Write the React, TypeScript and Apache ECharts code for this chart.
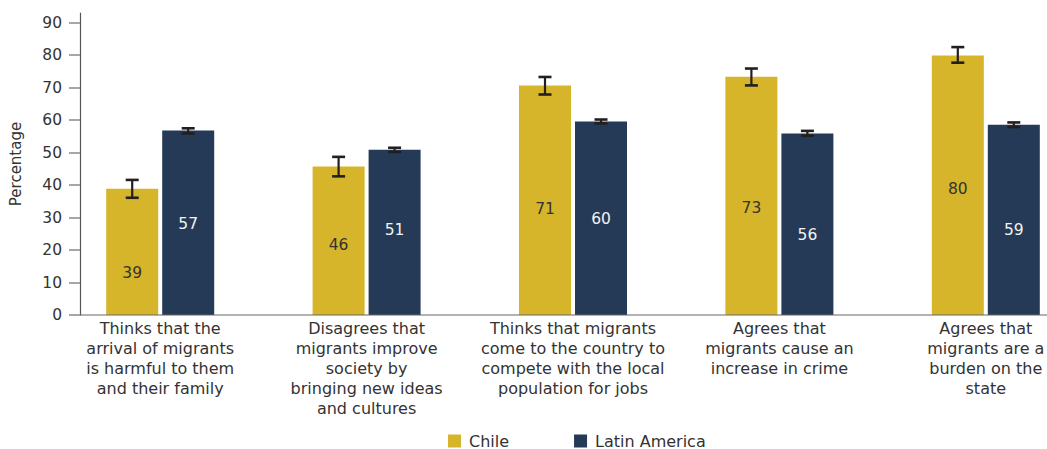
import React, { useEffect, useRef } from "react";
import * as echarts from "echarts";

const categories = [
  "Thinks that the\narrival of migrants\nis harmful to them\nand their family",
  "Disagrees that\nmigrants improve\nsociety by\nbringing new ideas\nand cultures",
  "Thinks that migrants\ncome to the country to\ncompete with the local\npopulation for jobs",
  "Agrees that\nmigrants cause an\nincrease in crime",
  "Agrees that\nmigrants are a\nburden on the\nstate",
];
const seriesNames = ["Chile", "Latin America"];
const chileValues = [38.9, 45.7, 70.7, 73.4, 79.9];
const latamValues = [56.8, 50.9, 59.6, 55.9, 58.6];
const chileLow = [36.1, 42.7, 67.9, 70.7, 77.7];
const chileHigh = [41.6, 48.7, 73.3, 75.9, 82.5];
const latamLow = [55.9, 50.2, 59.0, 55.2, 57.9];
const latamHigh = [57.5, 51.5, 60.2, 56.7, 59.3];
const yTicks = [0, 10, 20, 30, 40, 50, 60, 70, 80, 90];

// style: vertical label shifts (px) inside bars
const chileLabelShift = [21, 4, 9, 12, 4];
const latamLabelShift = [1, -2, 1, 11, 10];

const CHILE = "#D6B52A";
const LATAM = "#253A56";
const ERR = "#231F20";
const FONT = "DejaVu Sans";
const BAR_W = 52;
const BAR_GAP_PX = 4;

function errSeries(name: string, low: number[], high: number[], shift: number) {
  return {
    type: "custom",
    name: name + " CI",
    z: 10,
    encode: { x: 0, y: [1, 2] },
    data: low.map((l, i) => [i, l, high[i]]),
    renderItem: (params: any, api: any) => {
      const i = api.value(0);
      const lo = api.coord([i, api.value(1)]);
      const hi = api.coord([i, api.value(2)]);
      const cx = lo[0] + shift;
      const half = 6.5;
      const style = { stroke: ERR, lineWidth: 2.2 };
      return {
        type: "group",
        children: [
          { type: "line", shape: { x1: cx, y1: hi[1], x2: cx, y2: lo[1] }, style },
          { type: "line", shape: { x1: cx - half, y1: hi[1], x2: cx + half, y2: hi[1] }, style: { stroke: ERR, lineWidth: 2.6 } },
          { type: "line", shape: { x1: cx - half, y1: lo[1], x2: cx + half, y2: lo[1] }, style: { stroke: ERR, lineWidth: 2.6 } },
        ],
      };
    },
  };
}

export default function App() {
  const ref = useRef<HTMLDivElement>(null);
  useEffect(() => {
    if (!ref.current) return;
    const chart = echarts.init(ref.current, null, { renderer: "svg" });
    const off = (BAR_W + BAR_GAP_PX) / 2;
    chart.setOption({
      animation: false,
      textStyle: { fontFamily: FONT },
      grid: { left: 57, width: 1032, top: 13, height: 302, outerBoundsMode: "none", containLabel: false },
      legend: {
        data: seriesNames,
        left: 443,
        top: 428,
        itemWidth: 13,
        itemHeight: 13,
        itemGap: 65,
        icon: "rect",
        textStyle: { fontFamily: FONT, fontSize: 16, color: "#333", padding: [0, 0, 0, 3] },
      },
      xAxis: {
        type: "category",
        data: categories,
        axisLine: { show: false },
        axisTick: { show: false },
        axisLabel: {
          interval: 0,
          margin: 3,
          fontFamily: FONT,
          fontSize: 16,
          lineHeight: 20,
          color: "#333",
          align: "center",
        },
      },
      yAxis: {
        type: "value",
        min: 0,
        max: 93,
        interval: 10,
        offset: -23,
        name: "Percentage",
        nameLocation: "middle",
        nameRotate: 90,
        nameGap: 57,
        nameTextStyle: { fontFamily: FONT, fontSize: 15, color: "#333" },
        splitLine: { show: false },
        axisLine: { show: true, lineStyle: { color: "#555", width: 1.2 } },
        axisTick: { show: true, length: 11, lineStyle: { color: "#888", width: 1.5 }, customValues: yTicks },
        axisLabel: { margin: 18, fontFamily: FONT, fontSize: 15.5, color: "#333", customValues: yTicks },
      },
      graphic: [
        {
          type: "line",
          shape: { x1: 80, y1: 315, x2: 1047, y2: 315 },
          style: { stroke: "#666", lineWidth: 1.2 },
          z: 5,
        },
      ],
      series: [
        {
          type: "bar",
          name: seriesNames[0],
          barWidth: BAR_W,
          barGap: (BAR_GAP_PX / BAR_W) * 100 + "%",
          itemStyle: { color: CHILE },
          data: chileValues.map((v, i) => ({
            value: v,
            label: { offset: [0, chileLabelShift[i]] },
          })),
          label: {
            show: true,
            position: "inside",
            color: "#333",
            fontFamily: FONT,
            fontSize: 15.5,
            formatter: (p: any) => String(Math.round(p.value)),
          },
        },
        {
          type: "bar",
          name: seriesNames[1],
          barWidth: BAR_W,
          itemStyle: { color: LATAM },
          data: latamValues.map((v, i) => ({
            value: v,
            label: { offset: [0, latamLabelShift[i]] },
          })),
          label: {
            show: true,
            position: "inside",
            color: "#f2f2f2",
            fontFamily: FONT,
            fontSize: 15.5,
            formatter: (p: any) => String(Math.round(p.value)),
          },
        },
        errSeries(seriesNames[0], chileLow, chileHigh, -off),
        errSeries(seriesNames[1], latamLow, latamHigh, off),
      ],
    });
    return () => chart.dispose();
  }, []);
  return (
    <div
      ref={ref}
      style={{ position: "fixed", left: 0, top: 0, width: 1047, height: 449, background: "#fff" }}
    />
  );
}
